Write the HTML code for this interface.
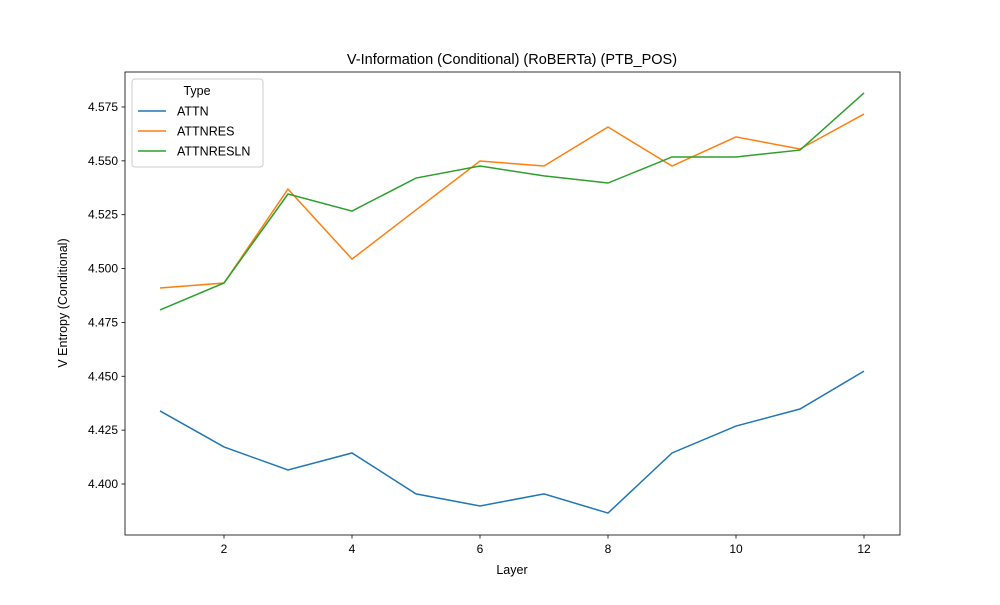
<!DOCTYPE html>
<html><head><meta charset="utf-8"><style>body{margin:0;background:#fff}svg{font-family:"Liberation Sans","DejaVu Sans",sans-serif}</style></head>
<body>
<svg id="chart" width="1000" height="600"></svg>
<script>
const layers=[1,2,3,4,5,6,7,8,9,10,11,12];
const attn=[4.4339,4.4172,4.4065,4.4144,4.3954,4.3898,4.3954,4.3865,4.4144,4.4269,4.4348,4.4524];
const attnres=[4.4910,4.4933,4.5369,4.5044,4.5272,4.5499,4.5476,4.5657,4.5476,4.5611,4.5555,4.5717];
const attnresln=[4.4808,4.4933,4.5346,4.5267,4.5420,4.5476,4.5430,4.5397,4.5518,4.5518,4.5550,4.5815];
const xTicks=[2,4,6,8,10,12];
const yTicks=[4.400,4.425,4.450,4.475,4.500,4.525,4.550,4.575];
const seriesNames=["ATTN","ATTNRES","ATTNRESLN"];
const colors=["#1f77b4","#ff7f0e","#2ca02c"];
const L=125,R=900,T=72,B=535;
const xs=v=>160+(v-1)*64;
const ys=v=>484-(v-4.4)/0.025*53.86;
const svg=document.getElementById('chart');
const NS="http://www.w3.org/2000/svg";
function mk(tag,attrs,parent){const e=document.createElementNS(NS,tag);for(const k in attrs)e.setAttribute(k,attrs[k]);(parent||svg).appendChild(e);return e;}
function txt(s,attrs){const e=mk('text',attrs);e.textContent=s;return e;}
let e;
e=mk('rect',{x:L,y:T,width:R-L,height:B-T,fill:'none',stroke:'#000','stroke-width':0.8});


xTicks.forEach(t=>{const x=xs(t);mk('line',{x1:x,x2:x,y1:B,y2:B+3.5,stroke:'#000','stroke-width':0.8});
e=txt(t,{x:x,y:B+18,'text-anchor':'middle','font-size':12});

});
yTicks.forEach(t=>{const y=ys(t);mk('line',{x1:L-3.5,x2:L,y1:y,y2:y,stroke:'#000','stroke-width':0.8});
e=txt(t.toFixed(3),{x:L-7,y:y+4,'text-anchor':'end','font-size':12});

});
[attn,attnres,attnresln].forEach((s,i)=>{
e=mk('polyline',{points:s.map((v,j)=>xs(layers[j])+','+ys(v)).join(' '),fill:'none',stroke:colors[i],'stroke-width':1.5});

});
e=txt('V-Information (Conditional) (RoBERTa) (PTB_POS)',{x:512,y:64,'text-anchor':'middle','font-size':14.5});


e=txt('Layer',{x:512,y:574,'text-anchor':'middle','font-size':12.5});


e=txt('V Entropy (Conditional)',{x:67,y:303,'text-anchor':'middle','font-size':12.5,transform:'rotate(-90 67 303)'});


e=mk('rect',{x:132,y:79,width:131,height:88,rx:3,fill:'#fff','fill-opacity':0.8,stroke:'#ccc'});


txt('Type',{x:197,y:95,'text-anchor':'middle','font-size':12.5});
seriesNames.forEach((n,i)=>{const y=111+i*20;
mk('line',{x1:138,x2:166,y1:y,y2:y,stroke:colors[i],'stroke-width':1.5});
e=txt(n,{x:177,y:y+4.5,'font-size':12.5});

});
</script>
</body></html>
